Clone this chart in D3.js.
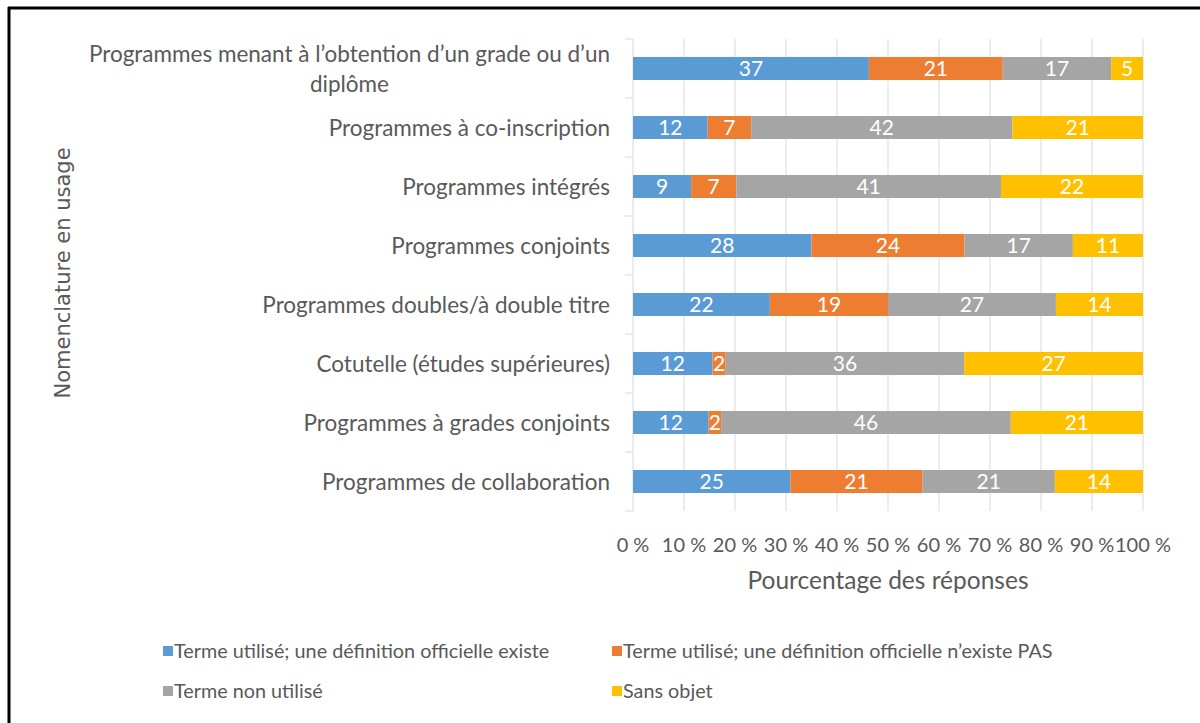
<!DOCTYPE html>
<html>
<head>
<meta charset="utf-8">
<script src="https://cdn.jsdelivr.net/npm/d3@7"></script>
<style>
  body { margin: 0; background: #fff; }
  svg text { fill: #595959; }
</style>
</head>
<body>
<svg id="chart" width="1200" height="723"></svg>
<script>
const categories = [
    "Programmes menant à l’obtention d’un grade ou d’un|diplôme",
    "Programmes à co-inscription",
    "Programmes intégrés",
    "Programmes conjoints",
    "Programmes doubles/à double titre",
    "Cotutelle (études supérieures)",
    "Programmes à grades conjoints",
    "Programmes de collaboration"
];
const seriesNames = [
    "Terme utilisé; une définition officielle existe",
    "Terme utilisé; une définition officielle n’existe PAS",
    "Terme non utilisé",
    "Sans objet"
];
const officielleExiste = [37, 12, 9, 28, 22, 12, 12, 25];
const officielleNExistePas = [21, 7, 7, 24, 19, 2, 2, 21];
const nonUtilise = [17, 42, 41, 17, 27, 36, 46, 21];
const sansObjet = [5, 21, 22, 11, 14, 27, 21, 14];
const tickValues = [0, 0.1, 0.2, 0.3, 0.4, 0.5, 0.6, 0.7, 0.8, 0.9, 1];
const colors = ["#5b9bd5", "#ed7d31", "#a5a5a5", "#ffc000"];

const svg = d3.select("svg#chart");
const font = "Lato, 'Open Sans', sans-serif";

// cadre noir
svg.append("line").attr("x1", 8).attr("x2", 1200).attr("y1", 8).attr("y2", 8)
    .attr("stroke", "#000").attr("stroke-width", 3);
svg.append("line").attr("x1", 9).attr("x2", 9).attr("y1", 7).attr("y2", 723)
    .attr("stroke", "#000").attr("stroke-width", 3);

const plotLeft = 633, plotRight = 1143, plotTop = 39, plotBottom = 511;

const rows = categories.map((c, i) => {
    const vals = [officielleExiste[i], officielleNExistePas[i], nonUtilise[i], sansObjet[i]];
    const total = d3.sum(vals);
    let acc = 0;
    return {
        cat: c,
        parts: vals.map((v, k) => {
            const p = {k: k, v: v, x0: acc / total, x1: (acc + v) / total};
            acc += v;
            return p;
        })
    };
});

const x = d3.scaleLinear().domain([0, 1]).range([plotLeft, plotRight]);
const y = d3.scaleBand().domain(categories).range([plotTop, plotBottom]).paddingInner(0.61).paddingOuter(0.305);
const yTicks = d3.scaleBand().domain(categories).range([plotTop, plotBottom]);

// grille
svg.append("g").selectAll("line")
    .data(tickValues.slice(1))
    .enter().append("line")
    .attr("x1", d => x(d)).attr("x2", d => x(d))
    .attr("y1", plotTop).attr("y2", plotBottom)
    .attr("stroke", "#d9d9d9").attr("stroke-width", 1);

// axe vertical + graduations
svg.append("line").attr("x1", plotLeft).attr("x2", plotLeft).attr("y1", plotTop).attr("y2", plotBottom)
    .attr("stroke", "#d9d9d9");
svg.append("g").selectAll("line")
    .data(d3.range(categories.length + 1))
    .enter().append("line")
    .attr("x1", plotLeft - 8).attr("x2", plotLeft)
    .attr("y1", d => plotTop + d * yTicks.step()).attr("y2", d => plotTop + d * yTicks.step())
    .attr("stroke", "#d9d9d9");

// barres
const bar = svg.append("g").selectAll("g")
    .data(rows)
    .enter().append("g");

bar.selectAll("rect")
    .data(d => d.parts.map(p => Object.assign({cat: d.cat}, p)))
    .enter().append("rect")
    .attr("x", d => x(d.x0))
    .attr("width", d => x(d.x1) - x(d.x0))
    .attr("y", d => y(d.cat))
    .attr("height", y.bandwidth())
    .attr("fill", d => colors[d.k]);

bar.selectAll("text")
    .data(d => d.parts.map(p => Object.assign({cat: d.cat}, p)))
    .enter().append("text")
    .attr("x", d => (x(d.x0) + x(d.x1)) / 2)
    .attr("y", d => y(d.cat) + y.bandwidth() / 2)
    .attr("dy", "0.36em")
    .attr("text-anchor", "middle")
    .style("fill", "#fff")
    .style("font-family", font)
    .style("font-size", "21px")
    .text(d => d.v);

// libellés des catégories
const catSize = "22.5px";
categories.forEach(c => {
    const lines = c.split("|");
    const cy = y(c) + y.bandwidth() / 2;
    const t = svg.append("text")
        .style("font-family", font).style("font-size", catSize);
    if (lines.length === 1) {
        t.attr("x", 610).attr("y", cy).attr("dy", "0.36em")
            .attr("text-anchor", "end").text(c);
    } else {
        const first = t.attr("x", 610).attr("y", cy - 15).attr("dy", "0.36em")
            .attr("text-anchor", "end").text(lines[0]);
        const w = first.node().getComputedTextLength();
        svg.append("text")
            .style("font-family", font).style("font-size", catSize)
            .attr("x", 610 - w / 2).attr("y", cy + 15).attr("dy", "0.36em")
            .attr("text-anchor", "middle").text(lines[1]);
    }
});

// graduations x
svg.append("g").selectAll("text")
    .data(tickValues)
    .enter().append("text")
    .attr("x", d => x(d))
    .attr("y", 545).attr("dy", "0.36em")
    .attr("text-anchor", "middle")
    .style("font-family", font).style("font-size", "20px")
    .text(d => Math.round(d * 100) + "\u00a0%");

svg.append("text")
    .attr("x", 888).attr("y", 580).attr("dy", "0.36em")
    .attr("text-anchor", "middle")
    .style("font-family", font).style("font-size", "24.5px")
    .text("Pourcentage des réponses");

svg.append("text")
    .attr("transform", `translate(62, ${(plotTop + plotBottom) / 2 - 2}) rotate(-90)`)
    .attr("dy", "0.36em")
    .attr("text-anchor", "middle")
    .style("font-family", "'DejaVu Sans', sans-serif").style("font-size", "21px")
    .text("Nomenclature en usage");

// légende
const legendPos = [[163, 651], [612, 651], [163, 691], [612, 691]];
const leg = svg.append("g").selectAll("g")
    .data(seriesNames)
    .enter().append("g")
    .attr("transform", (d, i) => `translate(${legendPos[i][0]}, ${legendPos[i][1]})`);
leg.append("rect").attr("x", 0).attr("y", -5).attr("width", 10).attr("height", 10)
    .attr("fill", (d, i) => colors[i]);
leg.append("text").attr("x", 11).attr("dy", "0.36em")
    .style("font-family", font).style("font-size", "19.8px")
    .text(d => d);
</script>
</body>
</html>
